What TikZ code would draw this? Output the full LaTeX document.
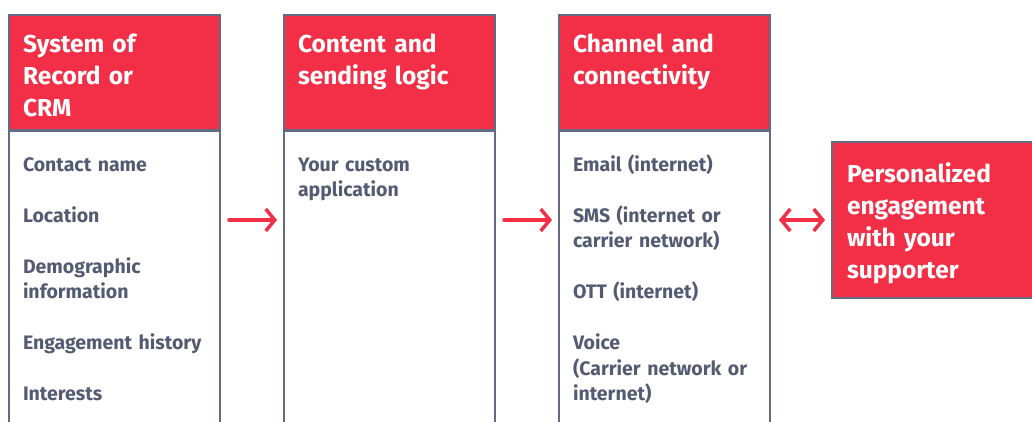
\documentclass[tikz,border=0pt]{standalone}
\usepackage{fontspec}
\setmainfont{Fira Sans}
\usetikzlibrary{arrows.meta, positioning}
\definecolor{twred}{HTML}{F22F46}
\definecolor{twgrey}{HTML}{626A84}
\definecolor{twtext}{HTML}{545A72}

\begin{document}
\begin{tikzpicture}[x=1pt, y=1pt, node distance=64pt, outer sep=0pt,
  head/.style={draw=twgrey, fill=twred, line width=1.5pt, minimum width=211pt, minimum height=116pt, inner sep=0pt},
  list/.style={draw=twgrey, line width=1.5pt, minimum width=211pt, minimum height=320pt, inner sep=0pt},
  headtext/.style={text=white, font=\bfseries\fontsize{24.5}{32}\selectfont, text width=190pt, align=left, inner sep=0pt},
  listtext/.style={text=twtext, font=\bfseries\fontsize{19.5}{25.5}\selectfont, text width=195pt, align=left, inner sep=0pt},
  link/.style={draw=twred, line width=3.5pt, line cap=round, line join=round, shorten <=9pt, shorten >=7pt, -{Straight Barb[length=9pt,width=22pt]}},
  both/.style={link, {Straight Barb[length=9pt,width=22pt]}-{Straight Barb[length=9pt,width=22pt]}}]

\clip (0,0) rectangle (1032,-421);
\useasboundingbox (0,0) rectangle (1032,-421);

% define the columns
  \node[head, anchor=north west] (crm) at (9,-15) {};
  \node[head] (logic)   [right=of crm] {};
  \node[head] (channel) [right=of logic] {};
  \node[list] (crmlist)     [below=-1.5pt of crm] {};
  \node[list] (logiclist)   [below=-1.5pt of logic] {};
  \node[list] (channellist) [below=-1.5pt of channel] {};
  \node[head, anchor=west, minimum width=220pt, minimum height=156pt] (supporter) at (832,-220) {};

% define the texts
  \node[headtext, below right=37pt and 14pt of crm.north west, anchor=base west]
{System of\\Record or\\CRM};
  \node[headtext, below right=37pt and 14pt of logic.north west, anchor=base west]
{Content and\\sending logic};
  \node[headtext, below right=37pt and 14pt of channel.north west, anchor=base west]
{Channel and\\connectivity};
  \node[headtext, below right=40pt and 15pt of supporter.north west, anchor=base west]
{Personalized\\engagement\\with your\\supporter};

  \node[listtext, below right=41.5pt and 14pt of crmlist.north west, anchor=base west]
{Contact name\\[25.5pt]Location\\[25.5pt]Demographic\\information\\[25.5pt]Engagement history\\[25.5pt]Interests};
  \node[listtext, below right=41.5pt and 14pt of logiclist.north west, anchor=base west]
{Your custom\\application};
  \node[listtext, below right=41.5pt and 14pt of channellist.north west, anchor=base west]
{Email (internet)\\[25.5pt]SMS (internet or\\carrier network)\\[25.5pt]OTT (internet)\\[25.5pt]Voice\\(Carrier network or\\internet)};

% define the links
  \draw[link] (crmlist.east |- supporter.west) -- (logiclist.west |- supporter.west);
  \draw[link] (logiclist.east |- supporter.west) -- (channellist.west |- supporter.west);
  \draw[both] (channellist.east |- supporter.west) -- (supporter.west);

\end{tikzpicture}
\end{document}
